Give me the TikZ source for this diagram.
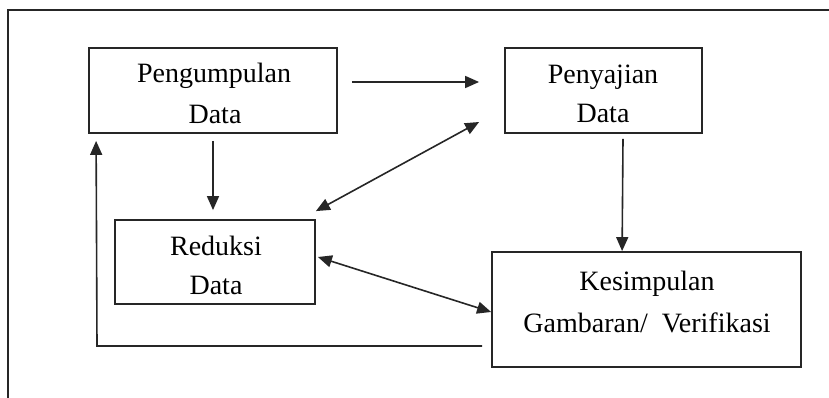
\documentclass[tikz,border=0pt]{standalone}
\usepackage{fontspec}
\setmainfont{Liberation Serif}
\usetikzlibrary{arrows.meta,calc}
\begin{document}
\begin{tikzpicture}[x=1pt,y=-1pt,
  box/.style={draw=black!85,line width=1.8pt,inner sep=0pt},
  txt/.style={inner sep=0pt,anchor=base,font=\fontsize{28}{32}\selectfont},
  conn/.style={draw=black!85,line width=1.6pt,-{Triangle[length=14pt,width=12pt]}},
  dconn/.style={draw=black!85,line width=1.6pt,{Triangle[length=14pt,width=12pt]}-{Triangle[length=14pt,width=12pt]}}]
\useasboundingbox (0,0) rectangle (829,398);
% outer frame (top and left edges)
\coordinate (fr1) at (829,10);
\coordinate (fr2) at (8,10);
\coordinate (fr3) at (8,398);
\draw[black!85,line width=1.8pt] (fr1) -- (fr2) -- (fr3);
% boxes
\node[box,minimum width=248pt,minimum height=85pt] (P) at (213,90.5) {};
\node[box,minimum width=197pt,minimum height=85pt] (S) at (603.5,90.5) {};
\node[box,minimum width=200pt,minimum height=84pt] (R) at (215,262) {};
\node[box,minimum width=309pt,minimum height=115pt] (K) at (646.5,309.5) {};
% texts
\node[txt] (p1) at (214,83) {Pengumpulan};
\node[txt] (p2) at (215,124) {Data};
\node[txt] (s1) at (603,84) {Penyajian};
\node[txt] (s2) at (603,123) {Data};
\node[txt] (r1) at (216,255) {Reduksi};
\node[txt] (r2) at (216,294) {Data};
\node[txt] (k1) at (647,290) {Kesimpulan};
\node[txt] (k2) at (647,332) {Gambaran/\ \ Verifikasi};
% connectors
\draw[conn] ($(P.east)+(14,-8.5)$) -- ($(S.west)+(-25,-8.5)$);
\draw[conn] ($(P.south)+(0,7)$) -- ($(R.north)+(-2,-9)$);
\draw[dconn] ($(S.west)+(-25,31.5)$) -- ($(R.north east)+(0,-8)$);
\draw[conn] ($(S.south)+(19.5,5)$) -- ($(K.north west)+(131,0)$);
\draw[dconn] ($(R.east)+(2,-5)$) -- ($(K.west)+(0,2.5)$);
\coordinate (fb) at (97,346);
\draw[conn] ($(K.west)+(-9,36.5)$) -- (fb) -- ($(P.south west)+(8,7)$);
\end{tikzpicture}
\end{document}
